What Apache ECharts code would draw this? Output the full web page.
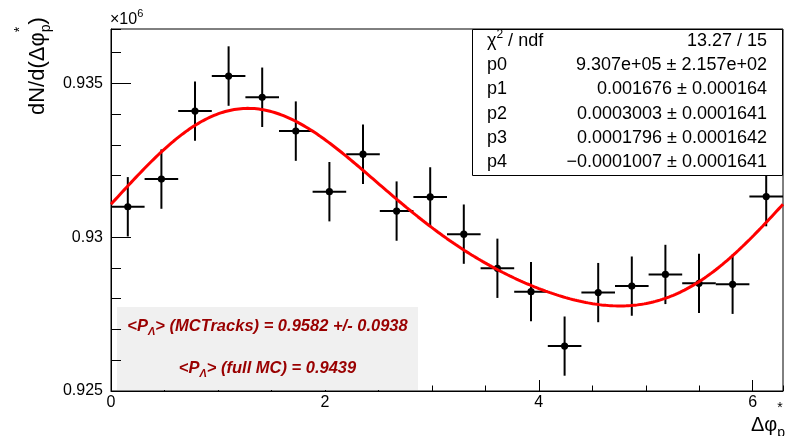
<!DOCTYPE html>
<html>
<head>
<meta charset="utf-8">
<script src="https://cdn.jsdelivr.net/npm/echarts@6/dist/echarts.min.js"></script>
<style>
  html, body { margin: 0; padding: 0; background: #fff; }
  #chart { width: 787px; height: 436px; }
</style>
</head>
<body>
<div id="chart"></div>
<script>
// Delta-phi* distribution of the proton in the Lambda frame, with its Fourier-series fit.

// histogram: 20 equal bins over [0, 2*pi]
const N_BINS = 20;
const X_MIN = 0;
const X_MAX = 2 * Math.PI;
const binCounts = [
  930990, 931890, 934100, 935240, 934550, 933450, 931480, 932700, 930850, 931310,
  930100, 928990, 928230, 926460, 928200, 928410, 928790, 928500, 928470, 931320
];

// y range (counts)
const Y_MIN = 925000;
const Y_MAX = 936770;
const Y_MAJOR = 5000;
const Y_MINOR = 1000;
const X_MAJOR = 2;
const X_MINOR = 0.5;

// fit statistics box
const statNames  = ['chi2', 'p0', 'p1', 'p2', 'p3', 'p4'];
const statValues = [
  '13.27 / 15',
  '9.307e+05 \u00b1 2.157e+02',
  '0.001676 \u00b1 0.000164',
  '0.0003003 \u00b1 0.0001641',
  '0.0001796 \u00b1 0.0001642',
  '\u22120.0001007 \u00b1 0.0001641'
];

// annotation lines
const noteLines = [
  { label: '(MCTracks) = 0.9582 +/- 0.0938' },
  { label: '(full MC) = 0.9439' }
];

const FONT = '"Liberation Sans", Arial, Helvetica, sans-serif';

// fit parameters parsed from the printed values
const fitPars = statValues.slice(1).map(s => parseFloat(s.split('\u00b1')[0].replace('\u2212', '-')));
function fitFn(x) {
  const [p0, p1, p2, p3, p4] = fitPars;
  return p0 * (1 + 2 * (p1 * Math.sin(x) + p2 * Math.cos(x) + p3 * Math.sin(2 * x) + p4 * Math.cos(2 * x)));
}

const binWidth = (X_MAX - X_MIN) / N_BINS;
const histData = binCounts.map((n, i) => [X_MIN + (i + 0.5) * binWidth, n, Math.sqrt(n)]);

const fitData = [];
const FIT_STEPS = 300;
for (let i = 0; i <= FIT_STEPS; i++) {
  const x = X_MIN + (X_MAX - X_MIN) * i / FIT_STEPS;
  fitData.push([x, fitFn(x)]);
}

// text measurement for laying out sub/superscripts
const measureCtx = document.createElement('canvas').getContext('2d');
function textWidth(t, font) { measureCtx.font = font; return measureCtx.measureText(t).width; }

function richLine(parts, x, y, opts) {
  opts = opts || {};
  const items = parts.map(p => {
    const size = p.size || opts.size || 16;
    const font = [opts.italic ? 'italic' : '', opts.bold ? 'bold' : '', size + 'px', FONT].join(' ').trim();
    return Object.assign({}, p, { font: font, w: textWidth(p.t, font) });
  });
  const xs = [];
  let cur = 0;
  items.forEach((it, k) => {
    xs.push(cur);
    if (!it.stack) {
      const prev = items[k - 1];
      cur += (prev && prev.stack) ? Math.max(prev.w, it.w) : it.w;
    }
  });
  const start = opts.align === 'center' ? x - cur / 2 : opts.align === 'right' ? x - cur : x;
  return items.map((it, k) => ({
    type: 'text',
    x: start + xs[k],
    y: y + (it.dy || 0),
    z: opts.z || 10,
    silent: true,
    style: {
      text: it.t, font: it.font, fill: opts.color || '#000',
      textAlign: 'left', align: 'left', textVerticalAlign: 'middle', verticalAlign: 'middle'
    }
  }));
}

// statistics box
const statBox = { x: 472.5, y: 29.5, w: 310, h: 146 };
const statRowY = [41, 65.5, 89.5, 114, 138.3, 162.5];
const statElements = [{
  type: 'rect', z: 8, silent: true,
  shape: { x: statBox.x, y: statBox.y, width: statBox.w, height: statBox.h },
  style: { fill: '#fff', stroke: '#000', lineWidth: 1 }
}];
statNames.forEach((name, i) => {
  const left = name === 'chi2'
    ? [{ t: '\u03c7' }, { t: '2', size: 12, dy: -6 }, { t: ' / ndf' }]
    : [{ t: name }];
  statElements.push(...richLine(left, 487, statRowY[i], { size: 18, z: 9 }));
  statElements.push(...richLine([{ t: statValues[i] }], 767, statRowY[i], { size: 18, z: 9, align: 'right' }));
});

// annotation box
const noteElements = [{
  type: 'rect', z: 1, silent: true,
  shape: { x: 117, y: 307, width: 301, height: 83 },
  style: { fill: '#f0f0f0' }
}];
const noteY = [326, 368];
noteLines.forEach((ln, i) => {
  noteElements.push(...richLine(
    [{ t: '<P' }, { t: '\u039b', size: 11, dy: 6 }, { t: '> ' + ln.label }],
    267.5, noteY[i], { size: 16.5, bold: true, italic: true, color: '#990000', align: 'center', z: 9 }));
});

// axis titles and exponent
const titleElements = [
  ...richLine([{ t: '\u00d710' }, { t: '6', size: 11, dy: -6 }], 110, 20, { size: 16 }),
  ...richLine([{ t: '\u0394\u03c6' }, { t: '*', size: 14, dy: -17, stack: true }, { t: 'p', size: 14, dy: 8 }],
    785, 425, { size: 20, align: 'right' }),
  {
    type: 'group', x: 38, y: 115, rotation: Math.PI / 2,
    children: richLine([{ t: 'dN/d(\u0394\u03c6' }, { t: '*', size: 14, dy: -18, stack: true },
      { t: 'p', size: 14, dy: 8 }, { t: ')' }], 0, 0, { size: 22 })
  }
];

const chart = echarts.init(document.getElementById('chart'), null, { renderer: 'canvas' });

const labelStyle = { color: '#000', fontFamily: FONT, fontSize: 16 };
const isMultiple = (v, step) => Math.abs(v / step - Math.round(v / step)) < 1e-6;

chart.setOption({
  animation: false,
  backgroundColor: '#fff',
  grid: {
    left: 111, top: 29, width: 672, height: 362,
    show: true, borderColor: '#000', borderWidth: 1, backgroundColor: 'transparent',
    containLabel: false, outerBoundsMode: 'none'
  },
  xAxis: [
    {
      type: 'value', min: X_MIN, max: X_MAX, interval: X_MAJOR, position: 'bottom', z: 0,
      axisLine: { show: true, onZero: false, lineStyle: { color: '#000', width: 1 } },
      axisTick: { show: true, inside: true, length: 11, lineStyle: { color: '#000', width: 1 } },
      axisLabel: Object.assign({ margin: 4, showMaxLabel: false,
        formatter: v => isMultiple(v, X_MAJOR) ? String(Math.round(v)) : '' }, labelStyle),
      splitLine: { show: false }
    },
    {
      type: 'value', min: X_MIN, max: X_MAX, interval: X_MINOR, position: 'bottom', z: 0,
      axisLine: { show: false, onZero: false },
      axisTick: { show: true, inside: true, length: 5.5, lineStyle: { color: '#000', width: 1 } },
      axisLabel: { show: false },
      splitLine: { show: false }
    }
  ],
  yAxis: [
    {
      type: 'value', min: Y_MIN, max: Y_MAX, interval: Y_MAJOR, position: 'left', z: 2,
      axisLine: { show: true, onZero: false, lineStyle: { color: '#000', width: 1 } },
      axisTick: { show: true, inside: true, length: 20, lineStyle: { color: '#000', width: 1 } },
      axisLabel: Object.assign({ margin: 8, showMaxLabel: false,
        formatter: v => isMultiple(v, Y_MAJOR) ? String(parseFloat((v / 1e6).toFixed(4))) : '' }, labelStyle),
      splitLine: { show: false }
    },
    {
      type: 'value', min: Y_MIN, max: Y_MAX, interval: Y_MINOR, position: 'left', z: 2,
      axisLine: { show: false, onZero: false },
      axisTick: { show: true, inside: true, length: 10, lineStyle: { color: '#000', width: 1 } },
      axisLabel: { show: false },
      splitLine: { show: false }
    }
  ],
  series: [
    {
      type: 'custom', xAxisIndex: 0, yAxisIndex: 0, z: 3, clip: true,
      data: histData,
      renderItem: function (params, api) {
        const x = api.value(0), y = api.value(1), e = api.value(2);
        const c = api.coord([x, y]);
        const top = api.coord([x, y + e]);
        const bot = api.coord([x, y - e]);
        const l = api.coord([x - binWidth / 2, y]);
        const r = api.coord([x + binWidth / 2, y]);
        const ls = { stroke: '#000', lineWidth: 2 };
        return {
          type: 'group',
          children: [
            { type: 'line', shape: { x1: c[0], y1: top[1], x2: c[0], y2: bot[1] }, style: ls },
            { type: 'line', shape: { x1: l[0], y1: c[1], x2: r[0], y2: c[1] }, style: ls },
            { type: 'circle', shape: { cx: c[0], cy: c[1], r: 3.6 }, style: { fill: '#000' } }
          ]
        };
      }
    },
    {
      type: 'line', xAxisIndex: 0, yAxisIndex: 0, z: 4,
      data: fitData, showSymbol: false, symbol: 'none', smooth: false, clip: true,
      lineStyle: { color: '#ff0000', width: 3 }
    }
  ],
  graphic: { elements: [...noteElements, ...statElements, ...titleElements] }
});
</script>
</body>
</html>
